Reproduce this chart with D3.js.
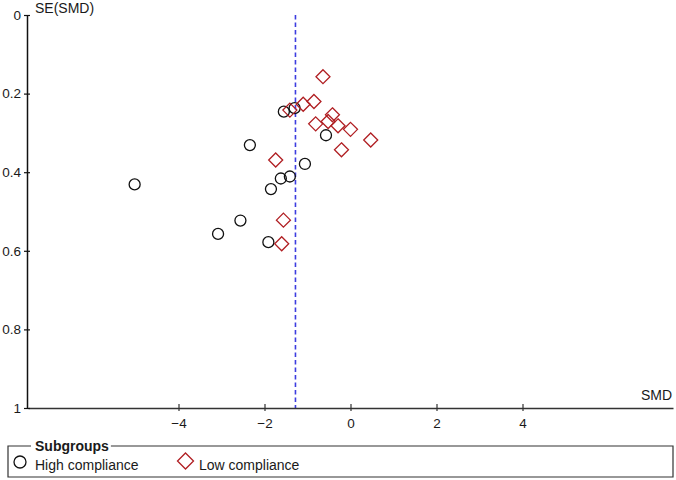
<!DOCTYPE html>
<html>
<head>
<meta charset="utf-8">
<script src="https://cdn.jsdelivr.net/npm/d3@7"></script>
<style>
  body { margin: 0; background: #fff; }
  svg text { font-family: "Liberation Sans", Arial, sans-serif; fill: #1a1a1a; }
</style>
</head>
<body>
<div id="chart"></div>
<script>
// funnel plot data: SMD and SE(SMD) per study
const highSmd = [-1.55, -1.30, -0.57, -2.34, -1.06, -1.41, -1.62, -1.85, -5.02, -2.56, -3.08, -1.91];
const highSe  = [0.246, 0.237, 0.306, 0.331, 0.379, 0.411, 0.416, 0.443, 0.431, 0.523, 0.557, 0.578];
const lowSmd  = [-0.64, -0.85, -1.10, -1.41, -0.42, -0.81, -0.52, -0.29, 0.00, 0.47, -0.21, -1.74, -1.56, -1.60];
const lowSe   = [0.157, 0.220, 0.227, 0.242, 0.254, 0.277, 0.271, 0.282, 0.291, 0.318, 0.343, 0.369, 0.522, 0.582];
const pooledSmd = -1.28;
const xTicks = [-4, -2, 0, 2, 4];
const yTicks = [0, 0.2, 0.4, 0.6, 0.8, 1];
const groups = ["High compliance", "Low compliance"];

const width = 676, height = 480;

const svg = d3.select("#chart").append("svg")
    .attr("width", width)
    .attr("height", height);

const x = d3.scaleLinear().domain([-7.5, 7.5]).range([28, 673]);
const y = d3.scaleLinear().domain([0, 1]).range([15, 408]);

// pooled estimate line
svg.append("line")
    .attr("x1", x(pooledSmd)).attr("x2", x(pooledSmd))
    .attr("y1", y(0)).attr("y2", y(1))
    .attr("stroke", "#3d3de0")
    .attr("stroke-width", 1.6)
    .attr("stroke-dasharray", "4.5,3");

// axes
const xAxisGroup = svg.append("g")
    .attr("transform", `translate(0,${y(1)})`)
    .call(d3.axisBottom(x).tickValues(xTicks).tickSizeOuter(0).tickFormat(d3.format("~g")));

xAxisGroup.select(".domain").attr("stroke", "#333").attr("stroke-width", 1.3);
xAxisGroup.selectAll(".tick line").attr("y1", -4).attr("y2", 3).attr("stroke", "#333").attr("stroke-width", 1.2);
xAxisGroup.selectAll(".tick text").attr("y", 10).attr("font-size", 13.5).attr("font-family", null).style("fill", "#1a1a1a");

const yAxisGroup = svg.append("g")
    .attr("transform", `translate(${x(-7.5) - 1},0)`)
    .call(d3.axisLeft(y).tickValues(yTicks).tickSizeOuter(0).tickFormat(d3.format("~g")));

yAxisGroup.select(".domain").attr("stroke", "#111").attr("stroke-width", 1.5);
yAxisGroup.selectAll(".tick line").attr("x1", -3).attr("x2", 3).attr("stroke", "#111").attr("stroke-width", 1.2);
yAxisGroup.selectAll(".tick text").attr("x", -6).attr("font-size", 13.5).attr("font-family", null).style("fill", "#1a1a1a");

svg.append("text")
    .attr("x", 35).attr("y", 13)
    .attr("font-size", 14)
    .text("SE(SMD)");

svg.append("text")
    .attr("x", 672).attr("y", 400)
    .attr("text-anchor", "end")
    .attr("font-size", 14)
    .text("SMD");

// points
const highData = highSmd.map((d, i) => ({ smd: d, se: highSe[i] }));
const lowData = lowSmd.map((d, i) => ({ smd: d, se: lowSe[i] }));

const diamond = s => `M0,${-s}L${s},0L0,${s}L${-s},0Z`;

svg.append("g").selectAll("circle")
    .data(highData)
    .join("circle")
    .attr("cx", d => x(d.smd))
    .attr("cy", d => y(d.se))
    .attr("r", 5.5)
    .attr("fill", "none")
    .attr("stroke", "#111")
    .attr("stroke-width", 1.3);

svg.append("g").selectAll("path")
    .data(lowData)
    .join("path")
    .attr("transform", d => `translate(${x(d.smd)},${y(d.se)})`)
    .attr("d", diamond(7))
    .attr("fill", "none")
    .attr("stroke", "#b01e22")
    .attr("stroke-width", 1.3);

// legend
const legend = svg.append("g");
const lx0 = 8, lx1 = 673, ly0 = 446, ly1 = 477;

const title = legend.append("text")
    .attr("x", 35).attr("y", 451)
    .attr("font-size", 14)
    .attr("font-weight", "bold")
    .text("Subgroups");
const tw = title.node().getComputedTextLength();

legend.append("path")
    .attr("d", `M31,${ly0}H${lx0}V${ly1}H${lx1}V${ly0}H${35 + tw + 2}`)
    .attr("fill", "none")
    .attr("stroke", "#333")
    .attr("stroke-width", 1.2);

legend.append("circle")
    .attr("cx", 20).attr("cy", 462)
    .attr("r", 6)
    .attr("fill", "none")
    .attr("stroke", "#111")
    .attr("stroke-width", 1.3);

legend.append("text")
    .attr("x", 35).attr("y", 470)
    .attr("font-size", 14)
    .text(groups[0]);

legend.append("path")
    .attr("transform", "translate(185.5,461)")
    .attr("d", diamond(8))
    .attr("fill", "none")
    .attr("stroke", "#b01e22")
    .attr("stroke-width", 1.3);

legend.append("text")
    .attr("x", 199).attr("y", 470)
    .attr("font-size", 14)
    .text(groups[1]);
</script>
</body>
</html>
